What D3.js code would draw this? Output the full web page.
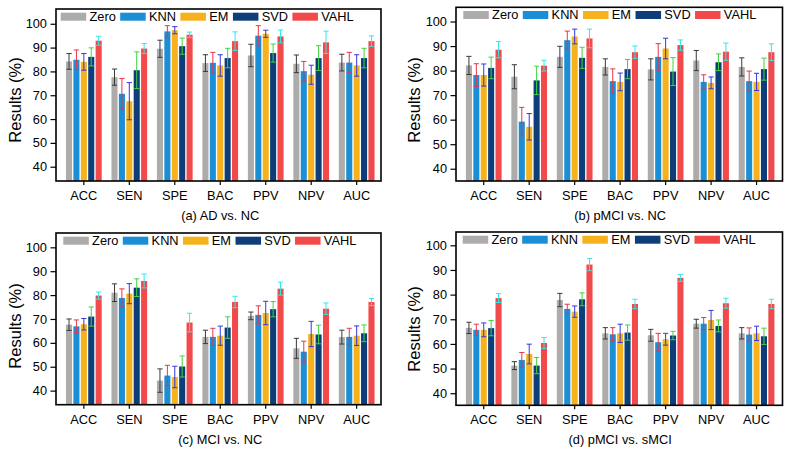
<!DOCTYPE html>
<html><head><meta charset="utf-8">
<script src="https://cdn.jsdelivr.net/npm/d3@7"></script>
<style>body{margin:0;background:#fff}svg{display:block}text{font-family:"Liberation Sans",Arial,sans-serif}</style>
</head><body><svg id="c" width="794" height="456"></svg>
<script>
const categories = ["ACC","SEN","SPE","BAC","PPV","NPV","AUC"];
const series = ["Zero","KNN","EM","SVD","VAHL"];
const yTicks = [40,50,60,70,80,90,100];
const captions = ["(a) AD vs. NC","(b) pMCI vs. NC","(c) MCI vs. NC","(d) pMCI vs. sMCI"];

// means per series (rows: Zero, KNN, EM, SVD, VAHL), columns follow categories
const meansA = [
  [84.2,77.6,89.5,83.5,86.7,83.2,83.7],
  [84.9,70.6,96.8,83.6,95.0,80.1,83.7],
  [84.0,67.5,97.3,82.5,95.8,78.6,82.5],
  [86.1,80.5,90.6,85.6,87.7,85.6,85.6],
  [92.9,89.6,95.4,92.7,94.7,92.2,92.7]];
const errorsA = [
  [3.3,3.4,3.6,3.5,4.7,3.7,3.5],
  [4.1,6.4,2.4,4.4,4.2,4.1,4.3],
  [3.5,7.8,1.5,4.5,1.5,4.0,4.5],
  [3.8,7.7,3.4,4.1,3.8,5.2,4.1],
  [1.9,2.1,1.1,3.9,2.7,4.7,2.2]];
const meansB = [
  [82.1,77.5,85.6,81.5,80.5,84.1,81.5],
  [78.2,59.2,92.4,75.7,85.6,75.4,75.7],
  [78.2,57.1,93.9,75.4,89.0,75.0,75.4],
  [81.1,76.0,85.2,80.6,79.6,83.4,80.6],
  [88.5,82.0,93.1,87.5,90.4,87.7,87.5]];
const errorsB = [
  [3.7,4.9,4.3,3.3,4.3,4.1,3.7],
  [4.6,5.8,3.7,5.0,5.4,2.9,4.1],
  [4.5,5.4,3.0,3.6,4.2,2.4,3.5],
  [4.4,5.8,4.3,3.9,5.7,3.4,4.5],
  [3.3,2.2,3.8,2.5,2.1,3.5,3.4]];
const meansC = [
  [67.6,81.0,44.2,62.5,71.3,57.7,62.4],
  [66.9,78.8,46.3,62.5,71.7,56.3,62.5],
  [67.8,80.6,45.7,63.0,72.5,63.7,63.0],
  [71.0,83.1,50.1,66.4,74.1,63.5,64.0],
  [79.8,85.9,68.5,77.1,82.7,74.3,77.1]];
const errorsC = [
  [2.4,3.7,4.9,2.8,1.6,4.2,2.9],
  [2.7,3.8,4.3,3.6,3.8,4.4,3.6],
  [2.4,4.2,4.5,4.0,4.9,5.3,4.1],
  [4.0,3.7,4.4,4.5,3.2,3.9,3.5],
  [1.5,2.9,3.9,2.4,2.7,2.4,1.5]];
const meansD = [
  [66.5,51.2,77.8,64.3,63.5,68.2,64.3],
  [65.7,53.5,74.2,63.9,60.7,68.2,63.8],
  [65.7,55.9,73.1,64.3,61.9,69.7,64.3],
  [66.4,51.2,78.1,64.6,63.4,67.3,63.1],
  [78.6,60.4,92.2,76.2,86.8,76.5,76.2]];
const errorsD = [
  [2.3,1.6,2.7,2.3,2.4,1.8,2.3],
  [2.3,3.0,1.9,2.7,3.6,2.5,2.7],
  [2.8,4.0,2.3,3.7,2.4,3.9,2.9],
  [3.1,3.3,2.6,3.1,1.7,2.4,3.3],
  [1.8,2.2,2.5,1.9,1.4,2.0,1.9]];

const barColors = ["#aeacaa","#1b8fd6","#f5b21c","#0d3e79","#f2494b"];
const errColors = ["#3a3a3a","#e8344c","#3636dd","#3fd43f","#33e6ea"];

// Arial advance widths (em) used to lay out the legend
const charW = {Z:.611,e:.556,r:.333,o:.556,K:.667,N:.722,E:.667,M:.833,S:.667,V:.667,D:.722,A:.667,H:.722,L:.556};
const textW = (s, size) => s.split("").reduce((a,ch) => a + (charW[ch] || .556), 0) * size;

const panels = [
  {means:meansA, errs:errorsA, cap:captions[0], fx0:56, fx1:381, fy0:9, fy1:181, bx0:61.1, bx1:379.4, dom:[34,106.2], lx:60.7, ylx:16, yly:100},
  {means:meansB, errs:errorsB, cap:captions[1], fx0:456, fx1:782.5, fy0:7.3, fy1:181, bx0:461, bx1:779.3, dom:[35,105.8], lx:463.3, ylx:415, yly:100},
  {means:meansC, errs:errorsC, cap:captions[2], fx0:56, fx1:381, fy0:233, fy1:404.7, bx0:61.1, bx1:379.4, dom:[34.1,106], lx:63.3, ylx:16, yly:326},
  {means:meansD, errs:errorsD, cap:captions[3], fx0:456, fx1:782.5, fy0:232, fy1:405.3, bx0:461, bx1:779.3, dom:[35.1,105.4], lx:462.7, ylx:415, yly:329}
];

const svg = d3.select("#c");
const FS = 12.8;

panels.forEach(p => {
  const g = svg.append("g");
  const x = d3.scaleBand().domain(categories).range([p.bx0, p.bx1]).padding(0);
  const xs = d3.scaleBand().domain(series).range([-17.85, 17.85]).paddingInner(0.18).paddingOuter(0);
  const y = d3.scaleLinear().domain(p.dom).range([p.fy1, p.fy0]);

  // bars
  series.forEach((s, si) => {
    const cx = c => x(c) + x.bandwidth()/2 + xs(s);
    g.append("g").selectAll("rect").data(categories).join("rect")
      .attr("x", c => cx(c)).attr("width", xs.bandwidth())
      .attr("y", (c,i) => y(p.means[si][i]))
      .attr("height", (c,i) => y(p.dom[0]) - y(p.means[si][i]))
      .attr("fill", barColors[si]);
  });
  // error bars
  series.forEach((s, si) => {
    const mid = c => x(c) + x.bandwidth()/2 + xs(s) + xs.bandwidth()/2;
    const eg = g.append("g").attr("stroke", errColors[si]).attr("stroke-width", 1).attr("fill","none");
    categories.forEach((c, i) => {
      const m = p.means[si][i], e = p.errs[si][i];
      const xm = mid(c), hw = 2.6;
      eg.append("line").attr("x1", xm).attr("x2", xm).attr("y1", y(m+e)).attr("y2", y(m-e));
      eg.append("line").attr("x1", xm-hw).attr("x2", xm+hw).attr("y1", y(m+e)).attr("y2", y(m+e));
      eg.append("line").attr("x1", xm-hw).attr("x2", xm+hw).attr("y1", y(m-e)).attr("y2", y(m-e));
    });
  });

  // frame
  g.append("rect").attr("x", p.fx0).attr("y", p.fy0).attr("width", p.fx1-p.fx0).attr("height", p.fy1-p.fy0)
    .attr("fill","none").attr("stroke","#000").attr("stroke-width",1.6);

  // y axis
  const ya = g.append("g").attr("transform", `translate(${p.fx0},0)`)
    .call(d3.axisLeft(y).tickValues(yTicks).tickSize(5.5).tickPadding(3.5));
  ya.select(".domain").remove();
  ya.selectAll("line").attr("stroke","#000").attr("stroke-width",1.2);
  ya.selectAll("text").attr("font-size", FS + "px").attr("fill","#000").attr("font-family","Liberation Sans, Arial, sans-serif");

  // x axis
  const xa = g.append("g").attr("transform", `translate(0,${p.fy1})`)
    .call(d3.axisBottom(x).tickSize(4).tickPadding(6));
  xa.select(".domain").remove();
  xa.selectAll("line").attr("stroke","#000").attr("stroke-width",1.2);
  xa.selectAll("text").attr("font-size", FS + "px").attr("fill","#000").attr("font-family","Liberation Sans, Arial, sans-serif");

  // y label
  g.append("text").attr("transform", `translate(${p.ylx + 5},${p.yly}) rotate(-90)`)
    .attr("text-anchor","middle").attr("font-size","16.5px").attr("fill","#000").text("Results (%)");

  // caption
  g.append("text").attr("x", (p.bx0+p.bx1)/2).attr("y", p.fy1 + 39)
    .attr("text-anchor","middle").attr("font-size", FS + "px").attr("fill","#000").text(p.cap);

  // legend
  let lx = p.lx;
  const ly = p.fy0 + 3.7;
  series.forEach((s, si) => {
    g.append("rect").attr("x", lx).attr("y", ly).attr("width", 25.5).attr("height", 8).attr("fill", barColors[si]);
    g.append("text").attr("x", lx + 28.8).attr("y", ly + 8.4).attr("font-size", FS + "px").attr("fill","#000").text(s);
    lx += 28.8 + textW(s, 12.5) + 5;
  });
});
</script></body></html>
